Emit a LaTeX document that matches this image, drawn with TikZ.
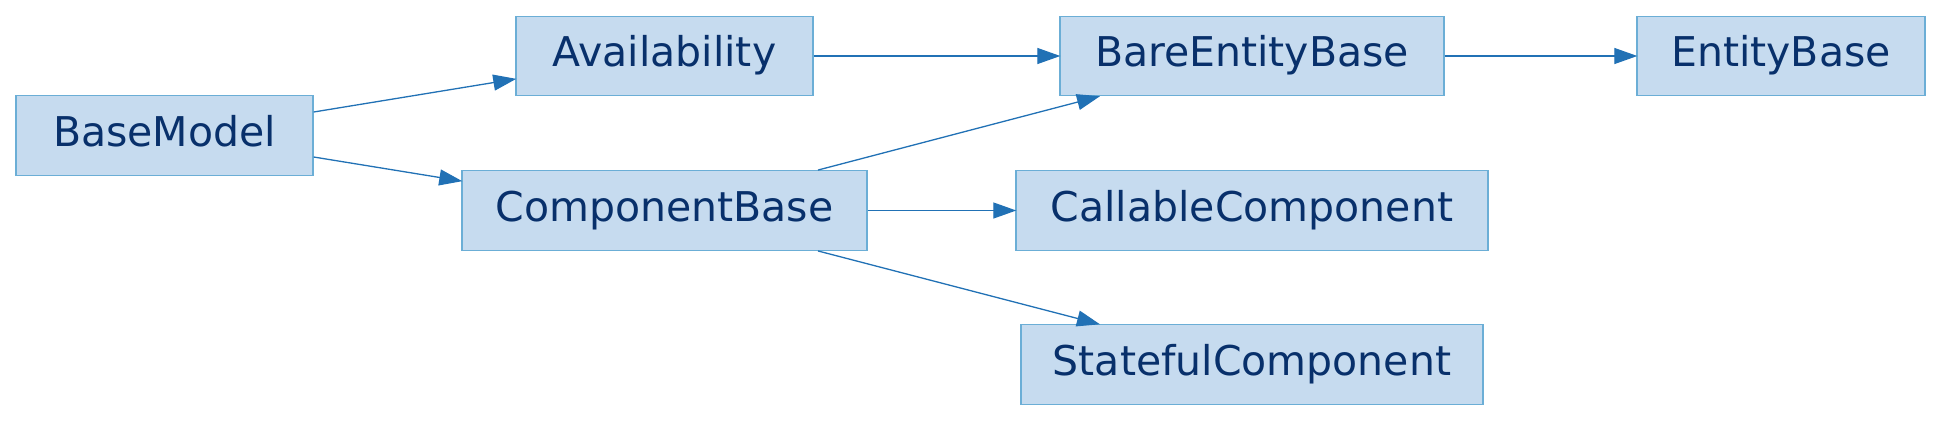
\documentclass[tikz,border=0pt]{standalone}
\usepackage{fontspec}
\setmainfont{DejaVu Sans}
\usetikzlibrary{arrows.meta}
\definecolor{nodefill}{HTML}{C6DBEF}
\definecolor{nodeborder}{HTML}{6BAED6}
\definecolor{nodetext}{HTML}{08306B}
\definecolor{edgecol}{HTML}{2171B5}
\begin{document}
\begin{tikzpicture}[x=1pt,y=-1pt,
  cls/.style={draw=nodeborder, fill=nodefill, line width=1.4pt, text=nodetext,
    minimum height=79.5pt, inner sep=0pt, text height=30pt, text depth=9pt,
    font=\fontsize{41pt}{49pt}\selectfont},
  arr/.style={draw=edgecol, line width=1.3pt,
    -{Triangle[length=23pt,width=16pt]}, shorten >=-1pt}]
\useasboundingbox (0,0) rectangle (1942,421);
\node[cls, minimum width=297pt] (bm) at (164.5,135.5) {BaseModel};
\node[cls, minimum width=297pt] (av) at (664.5,56) {Availability};
\node[cls, minimum width=405pt] (cb) at (664.5,210.5) {ComponentBase};
\node[cls, minimum width=384pt] (be) at (1252,56) {BareEntityBase};
\node[cls, minimum width=288pt] (eb) at (1781,56) {EntityBase};
\node[cls, minimum width=472pt] (cc) at (1252,210.5) {CallableComponent};
\node[cls, minimum width=462pt] (sc) at (1252,364.5) {StatefulComponent};
\draw[arr] ([yshift=23.5pt]bm.east) -- ([yshift=-23pt]av.west);
\draw[arr] ([yshift=-21.5pt]bm.east) -- ([yshift=29.5pt]cb.west);
\draw[arr] (av.east) -- (be.west);
\draw[arr] ([xshift=153.5pt]cb.north) -- ([xshift=-153pt]be.south);
\draw[arr] (cb.east) -- (cc.west);
\draw[arr] ([xshift=153.5pt]cb.south) -- ([xshift=-153pt]sc.north);
\draw[arr] (be.east) -- (eb.west);
\end{tikzpicture}
\end{document}
